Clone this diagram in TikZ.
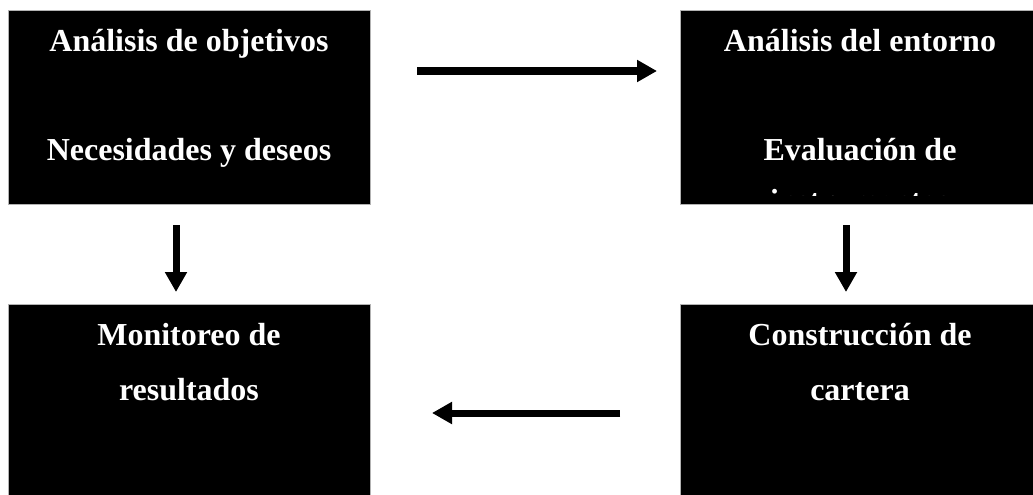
\documentclass[tikz,border=0pt]{standalone}
\usepackage{fontspec}
\setmainfont{Liberation Serif}
\usetikzlibrary{arrows.meta}
\begin{document}
\begin{tikzpicture}[x=1pt,y=-1pt,
  panel/.style={fill=black, draw=gray!60, line width=0.8pt, inner sep=0pt,
                anchor=north west, minimum width=362pt},
  label/.style={text=white, font=\bfseries\fontsize{32}{36}\selectfont,
                anchor=base, inner sep=0pt},
  flow/.style={line width=7pt, -{Triangle[length=20pt,width=21pt]}}]
% page frame
\clip (0,0) rectangle (1033,495);

% the four stages
\node[panel, minimum height=194pt] (obj) at (8,10) {};
\node[panel, minimum height=194pt] (ent) at (680,10) {};
\node[panel, minimum height=200pt] (mon) at (8,304) {};
\node[panel, minimum height=200pt] (car) at (680,304) {};

% stage titles
\node[label] (objA) at (189,52)  {Análisis de objetivos};
\node[label] (objB) at (189,160) {Necesidades y deseos};
\node[label] (entA) at (860,52)  {Análisis del entorno};
\node[label] (entB) at (860,160) {Evaluación de};
% the text area ends a little above the panel's lower edge
\begin{scope}
  \clip (680,10) rectangle (1040,195);
  \node[label] (entC) at (860,211) {instrumentos};
\end{scope}
\node[label] (monA) at (189,345) {Monitoreo de};
\node[label] (monB) at (189,400) {resultados};
\node[label] (carA) at (860,345) {Construcción de};
\node[label] (carB) at (860,400) {cartera};

% arrow ends
\coordinate (r1) at (417,71);  \coordinate (r2) at (657,71);
\coordinate (d1) at (176,225); \coordinate (d2) at (176,292);
\coordinate (d3) at (846,225); \coordinate (d4) at (846,292);
\coordinate (l1) at (620,413); \coordinate (l2) at (432,413);

\draw[flow] (r1) -- (r2);
\draw[flow] (d1) -- (d2);
\draw[flow] (d3) -- (d4);
\draw[flow] (l1) -- (l2);
\end{tikzpicture}
\end{document}
